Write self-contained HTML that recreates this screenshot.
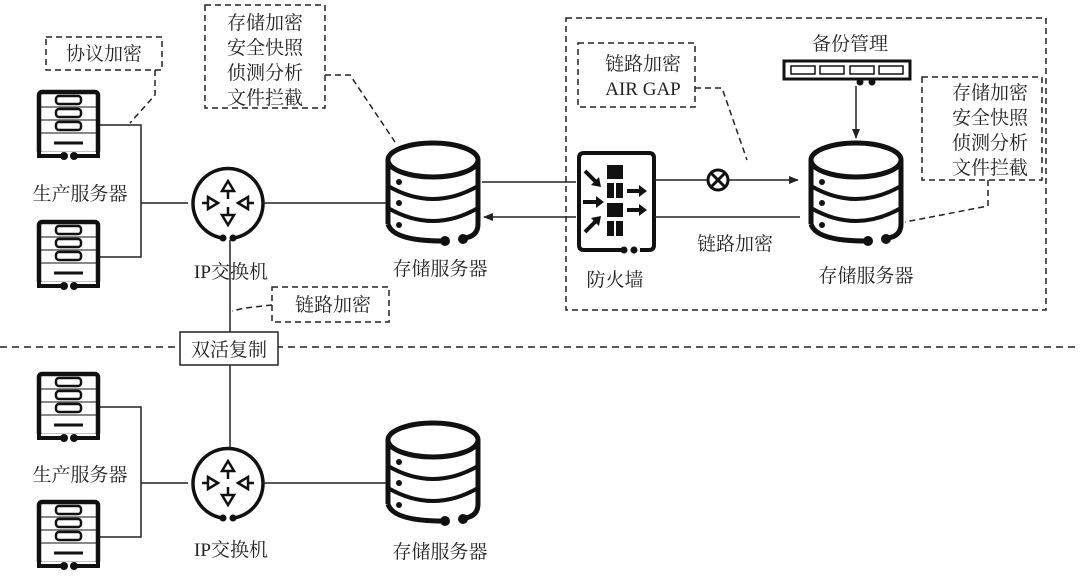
<!DOCTYPE html>
<html><head><meta charset="utf-8"><style>
body{margin:0;background:#fff;}
svg{display:block;}
text{font-family:"Liberation Serif","Noto Serif CJK SC",serif;font-size:19px;fill:#222;}
</style></head><body>
<svg width="1080" height="576" viewBox="0 0 1080 576" xmlns="http://www.w3.org/2000/svg">
<defs>
<marker id="ar" markerWidth="10" markerHeight="8" refX="9" refY="4" orient="auto" markerUnits="userSpaceOnUse"><path d="M0,0 L10,4 L0,8 z" fill="#222"/></marker>
<g id="srv">
<rect x="2" y="2" width="59" height="62" rx="3" fill="none" stroke="#111" stroke-width="4.5"/>
<line x1="2" y1="17" x2="61" y2="17" stroke="#111" stroke-width="1"/>
<line x1="2" y1="30" x2="61" y2="30" stroke="#111" stroke-width="1"/>
<line x1="2" y1="43" x2="61" y2="43" stroke="#111" stroke-width="1"/>
<rect x="19" y="6" width="25" height="8" rx="3" fill="none" stroke="#111" stroke-width="2.5"/>
<rect x="19" y="19" width="25" height="8" rx="3" fill="none" stroke="#111" stroke-width="2.5"/>
<rect x="19" y="32" width="25" height="8" rx="3" fill="none" stroke="#111" stroke-width="2.5"/>
<line x1="17" y1="53" x2="46" y2="53" stroke="#111" stroke-width="3"/>
<rect x="0" y="62" width="63" height="8" fill="#fff"/>
<path d="M2,60 V66 H26 M61,60 V66 H38" fill="none" stroke="#111" stroke-width="4"/>
<circle cx="27" cy="66" r="4" fill="#111"/><circle cx="37" cy="66" r="4" fill="#111"/>
</g>
<g id="sw">
<path d="M-6,35 A35,35 0 1 1 6,35" fill="none" stroke="#111" stroke-width="3.5"/>
<circle cx="-5" cy="35" r="3.5" fill="#111"/><circle cx="5" cy="35" r="3.5" fill="#111"/>
<path d="M0,-22 L-6,-12 L6,-12 Z M0,-12 V-4" fill="none" stroke="#111" stroke-width="2.5"/>
<path d="M0,22 L-6,12 L6,12 Z M0,12 V4" fill="none" stroke="#111" stroke-width="2.5"/>
<path d="M-10,0 L-20,-6 L-20,6 Z M-26,0 H-20" fill="none" stroke="#111" stroke-width="2.5"/>
<path d="M10,0 L20,-6 L20,6 Z M26,0 H20" fill="none" stroke="#111" stroke-width="2.5"/>
</g>
<g id="db">
<ellipse cx="48" cy="20" rx="45" ry="17" fill="none" stroke="#111" stroke-width="5"/>
<path d="M3,20 V84 M93,20 V84" fill="none" stroke="#111" stroke-width="5"/>
<path d="M3,46 Q48,72 93,46 M3,68 Q48,94 93,68" fill="none" stroke="#111" stroke-width="4"/>
<circle cx="14" cy="42" r="3" fill="#111"/><circle cx="14" cy="63" r="3" fill="#111"/><circle cx="14" cy="85" r="3" fill="#111"/>
<path d="M3,84 Q8,101 58,101 M93,84 Q93,96 80,98" fill="none" stroke="#111" stroke-width="5"/>
<circle cx="60" cy="101" r="5" fill="#111"/><circle cx="78" cy="99" r="5" fill="#111"/>
</g>
</defs>

<!-- servers -->
<use href="#srv" x="37" y="90"/>
<use href="#srv" x="37" y="220"/>
<use href="#srv" x="37" y="372"/>
<use href="#srv" x="37" y="500"/>
<text x="80" y="200" text-anchor="middle">生产服务器</text>
<text x="80" y="481" text-anchor="middle">生产服务器</text>
<path d="M100,125 H141 V257 H100 M141,203 H188" fill="none" stroke="#222" stroke-width="1.5"/>
<path d="M100,407 H141 V537 H100 M141,483 H188" fill="none" stroke="#222" stroke-width="1.5"/>

<use href="#sw" x="228" y="203"/>
<use href="#sw" x="228" y="483"/>
<text x="231" y="278" text-anchor="middle">IP交换机</text>
<text x="231" y="556" text-anchor="middle">IP交换机</text>
<line x1="230" y1="240" x2="230" y2="448" stroke="#222" stroke-width="1.5"/>

<path d="M263,203 H386 M263,483 H386" stroke="#222" stroke-width="1.5"/>
<use href="#db" x="385" y="140"/>
<use href="#db" x="385" y="420"/>
<text x="440" y="275" text-anchor="middle">存储服务器</text>
<text x="440" y="558" text-anchor="middle">存储服务器</text>

<!-- dashed split -->
<line x1="0" y1="347" x2="1080" y2="347" stroke="#222" stroke-width="1.5" stroke-dasharray="7,5"/>
<rect x="180" y="332" width="98" height="33" fill="#fff" stroke="#222" stroke-width="1.5"/>
<text x="229" y="356" text-anchor="middle">双活复制</text>

<!-- annotation boxes -->
<g fill="none" stroke="#222" stroke-width="1.5" stroke-dasharray="6,4">
<rect x="46" y="37" width="116" height="33"/>
<rect x="205" y="5" width="120" height="103"/>
<rect x="272" y="287" width="117" height="35"/>
<rect x="578" y="43" width="117" height="64"/>
<rect x="922" y="77" width="120" height="103"/>
<rect x="566" y="18" width="480" height="292"/>
<path d="M155,70 V95 L130,123"/>
<path d="M325,75 H350 L395,142"/>
<path d="M272,305 L245,308 L232,311"/>
<path d="M695,88 H722 L747,160"/>
<path d="M988,180 V206 L905,222"/>
</g>
<text x="104" y="60" text-anchor="middle">协议加密</text>
<text x="265" y="29" text-anchor="middle">存储加密</text>
<text x="265" y="54" text-anchor="middle">安全快照</text>
<text x="265" y="79" text-anchor="middle">侦测分析</text>
<text x="265" y="104" text-anchor="middle">文件拦截</text>
<text x="333" y="311" text-anchor="middle">链路加密</text>
<text x="643" y="70" text-anchor="middle">链路加密</text>
<text x="643" y="95" text-anchor="middle">AIR GAP</text>
<text x="990" y="99" text-anchor="middle">存储加密</text>
<text x="990" y="124" text-anchor="middle">安全快照</text>
<text x="990" y="149" text-anchor="middle">侦测分析</text>
<text x="990" y="174" text-anchor="middle">文件拦截</text>

<!-- storage to firewall -->
<line x1="482" y1="182" x2="576" y2="182" stroke="#222" stroke-width="1.5"/>
<line x1="576" y1="217" x2="484" y2="217" stroke="#222" stroke-width="1.5" marker-end="url(#ar)"/>

<!-- firewall -->
<g>
<path d="M579,240 V158 Q579,153 584,153 H649 Q654,153 654,158 V245 Q654,250 649,250 H640 M624,250 H584 Q579,250 579,245 V240" fill="none" stroke="#111" stroke-width="4"/>
<circle cx="624" cy="250" r="3.5" fill="#111"/><circle cx="634" cy="250" r="3.5" fill="#111"/>
<rect x="607" y="165" width="16" height="14" fill="#111"/>
<rect x="607" y="183" width="7" height="15" fill="#111"/><rect x="616" y="183" width="7" height="15" fill="#111"/>
<rect x="607" y="203" width="16" height="14" fill="#111"/>
<rect x="607" y="221" width="7" height="15" fill="#111"/><rect x="616" y="221" width="7" height="15" fill="#111"/>
<g stroke="#111" stroke-width="4" fill="none"><path d="M585,171 L597,183"/><path d="M583,202 H597"/><path d="M585,232 L597,220"/><path d="M627,191 H639"/><path d="M627,210 H639"/></g>
<g fill="#111"><path d="M601,187 L591,185 L599,177 Z"/><path d="M604,202 L596,196 L596,208 Z"/><path d="M601,216 L599,226 L591,218 Z"/><path d="M647,191 L639,185 L639,197 Z"/><path d="M647,210 L639,204 L639,216 Z"/></g>
</g>
<text x="615" y="286" text-anchor="middle">防火墙</text>

<!-- firewall to right storage -->
<line x1="655" y1="180" x2="707" y2="180" stroke="#222" stroke-width="1.5"/>
<line x1="729" y1="180" x2="798" y2="180" stroke="#222" stroke-width="1.5" marker-end="url(#ar)"/>
<circle cx="718" cy="180" r="10" fill="none" stroke="#111" stroke-width="3"/>
<path d="M711,173 L725,187 M725,173 L711,187" stroke="#111" stroke-width="3"/>
<line x1="655" y1="217" x2="800" y2="217" stroke="#222" stroke-width="1.5"/>
<text x="735" y="250" text-anchor="middle">链路加密</text>

<!-- backup -->
<text x="850" y="50" text-anchor="middle">备份管理</text>
<rect x="784" y="61" width="126" height="18" fill="none" stroke="#111" stroke-width="3"/>
<g fill="none" stroke="#111" stroke-width="1.5">
<rect x="791" y="66" width="24" height="8"/><rect x="820" y="66" width="24" height="8"/><rect x="850" y="66" width="24" height="8"/><rect x="879" y="66" width="24" height="8"/>
</g>
<circle cx="860" cy="82" r="3.5" fill="#111"/><circle cx="872" cy="82" r="3.5" fill="#111"/>
<line x1="856" y1="86" x2="856" y2="138" stroke="#222" stroke-width="1.5" marker-end="url(#ar)"/>
<use href="#db" x="808" y="140"/>
<text x="866" y="282" text-anchor="middle">存储服务器</text>
</svg>
</body></html>
